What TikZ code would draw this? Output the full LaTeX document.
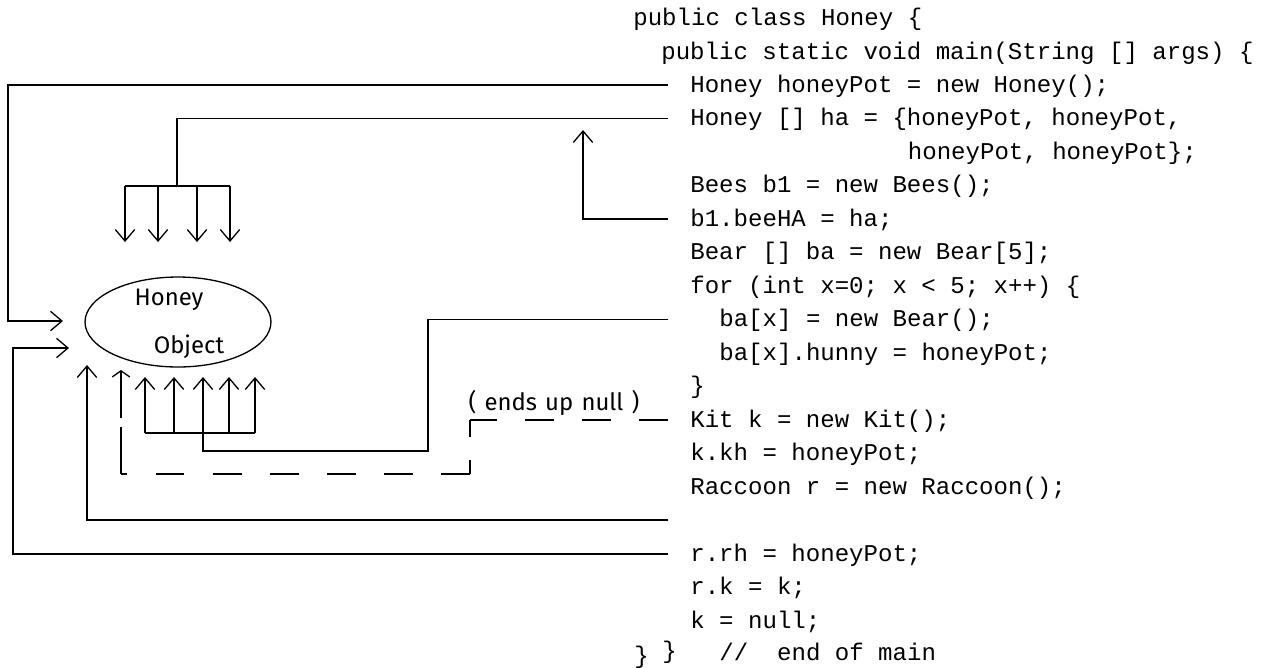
\documentclass[tikz,border=0pt]{standalone}
\usepackage{fontspec}
\usetikzlibrary{shapes.geometric,arrows.meta}
\newfontfamily\codefont{Liberation Mono}
\newfontfamily\handfont[WordSpace=1.3]{Fira Sans}

\tikzset{
  code/.style={font=\codefont\fontsize{13.7pt}{16pt}\selectfont, anchor=west,
    inner sep=0pt, text height=8pt, text depth=0pt},
  hand/.style={font=\handfont\fontsize{13.6pt}{16pt}\selectfont, inner sep=0pt},
  wire/.style={line width=0.75pt},
  ptr/.style={wire, -{Straight Barb[length=6.5pt,width=11pt]}},
  nullwire/.style={wire, dash pattern=on 16.5pt off 16pt},
  nullptr/.style={wire, dash pattern=on 27pt off 5pt,
    -{Straight Barb[length=3.5pt,width=10pt]}}
}

\begin{document}
\begin{tikzpicture}[x=0.02cm, y=-0.02cm]
  \useasboundingbox (0,0) rectangle (1270,667);

  \node[code] (l1)  at (633,18)    {public class Honey \{};
  \node[code] (l2)  at (661,52)    {public static void main(String [] args) \{};
  \node[code] (l3)  at (690,85)    {Honey honeyPot = new Honey();};
  \node[code] (l4)  at (690,118.5) {Honey [] ha = \{honeyPot, honeyPot,};
  \node[code] (l5)  at (907.5,152) {honeyPot, honeyPot\};};
  \node[code] (l6)  at (690,185.5) {Bees b1 = new Bees();};
  \node[code] (l7)  at (690,219)   {b1.beeHA = ha;};
  \node[code] (l8)  at (690,252.5) {Bear [] ba = new Bear[5];};
  \node[code] (l9)  at (690,286)   {for (int x=0; x < 5; x++) \{};
  \node[code] (l10) at (719,319.5) {ba[x] = new Bear();};
  \node[code] (l11) at (719,353)   {ba[x].hunny = honeyPot;};
  \node[code] (l12) at (690,386.5) {\}};
  \node[code] (l13) at (690,420)   {Kit k = new Kit();};
  \node[code] (l14) at (690,453.5) {k.kh = honeyPot;};
  \node[code] (l15) at (690,487)   {Raccoon r = new Raccoon();};
  \node[code] (l17) at (690,554)   {r.rh = honeyPot;};
  \node[code] (l18) at (690,587.5) {r.k = k;};
  \node[code] (l19) at (690,621)   {k = null;};
  \node[code] (endcls)  at (634,656) {\}};
  \node[code] (endmain) at (662,651) {\}};
  \node[code] (endcmt)  at (719,653) {//~~end of main};

  \node[draw, wire, ellipse, minimum width=3.72cm, minimum height=1.8cm] (obj) at (178,322) {};
  \node[hand] (objtop) at (169,300) {Honey};
  \node[hand] (objbot) at (189,347) {Object};
  \node[hand] (nulltxt) at (554,403) {( ends up null )};

  \coordinate (edge)  at (668,0);
  \coordinate (blank) at (668,520);
  \coordinate (in1)   at (63,321);
  \coordinate (in2)   at (69,348);
  \coordinate (fan)   at (177,186);
  \coordinate (up)    at (583,130);
  \coordinate (bears) at (203,433);
  \coordinate (kitc)  at (470,420);
  \coordinate (kitb)  at (470,474);
  \coordinate (kitl)  at (121,474);
  \coordinate (kit)   at (121,370);
  \coordinate (rac)   at (87,365);

  \draw[ptr] (l3.west -| edge) -| (8,321) -- (in1);
  \draw[wire] (l4.west -| edge) -| (fan);
  \draw[wire] (125,186) -- (230,186);
  \foreach \x in {125,158,197,230}
    \draw[ptr] (\x,186) -- (\x,242);
  \draw[ptr] (l7.west -| edge) -| (up);
  \draw[wire] (l10.west -| edge) -| (428,451) -| (bears);
  \draw[wire] (145,433) -- (255,433);
  \foreach \x in {145,174,203,229,255}
    \draw[ptr] (\x,433) -- (\x,377);
  \draw[nullwire] (l13.west -| edge) -- (kitc);
  \draw[wire, dash pattern=on 9.6pt off 13pt] (kitc) -- (kitb);
  \draw[nullwire] (kitb) -- (kitl);
  \draw[nullptr] (kitl) -- (kit);
  \draw[ptr] (blank) -| (rac);
  \draw[ptr] (l17.west -| edge) -| (13,348) -- (in2);
\end{tikzpicture}
\end{document}
